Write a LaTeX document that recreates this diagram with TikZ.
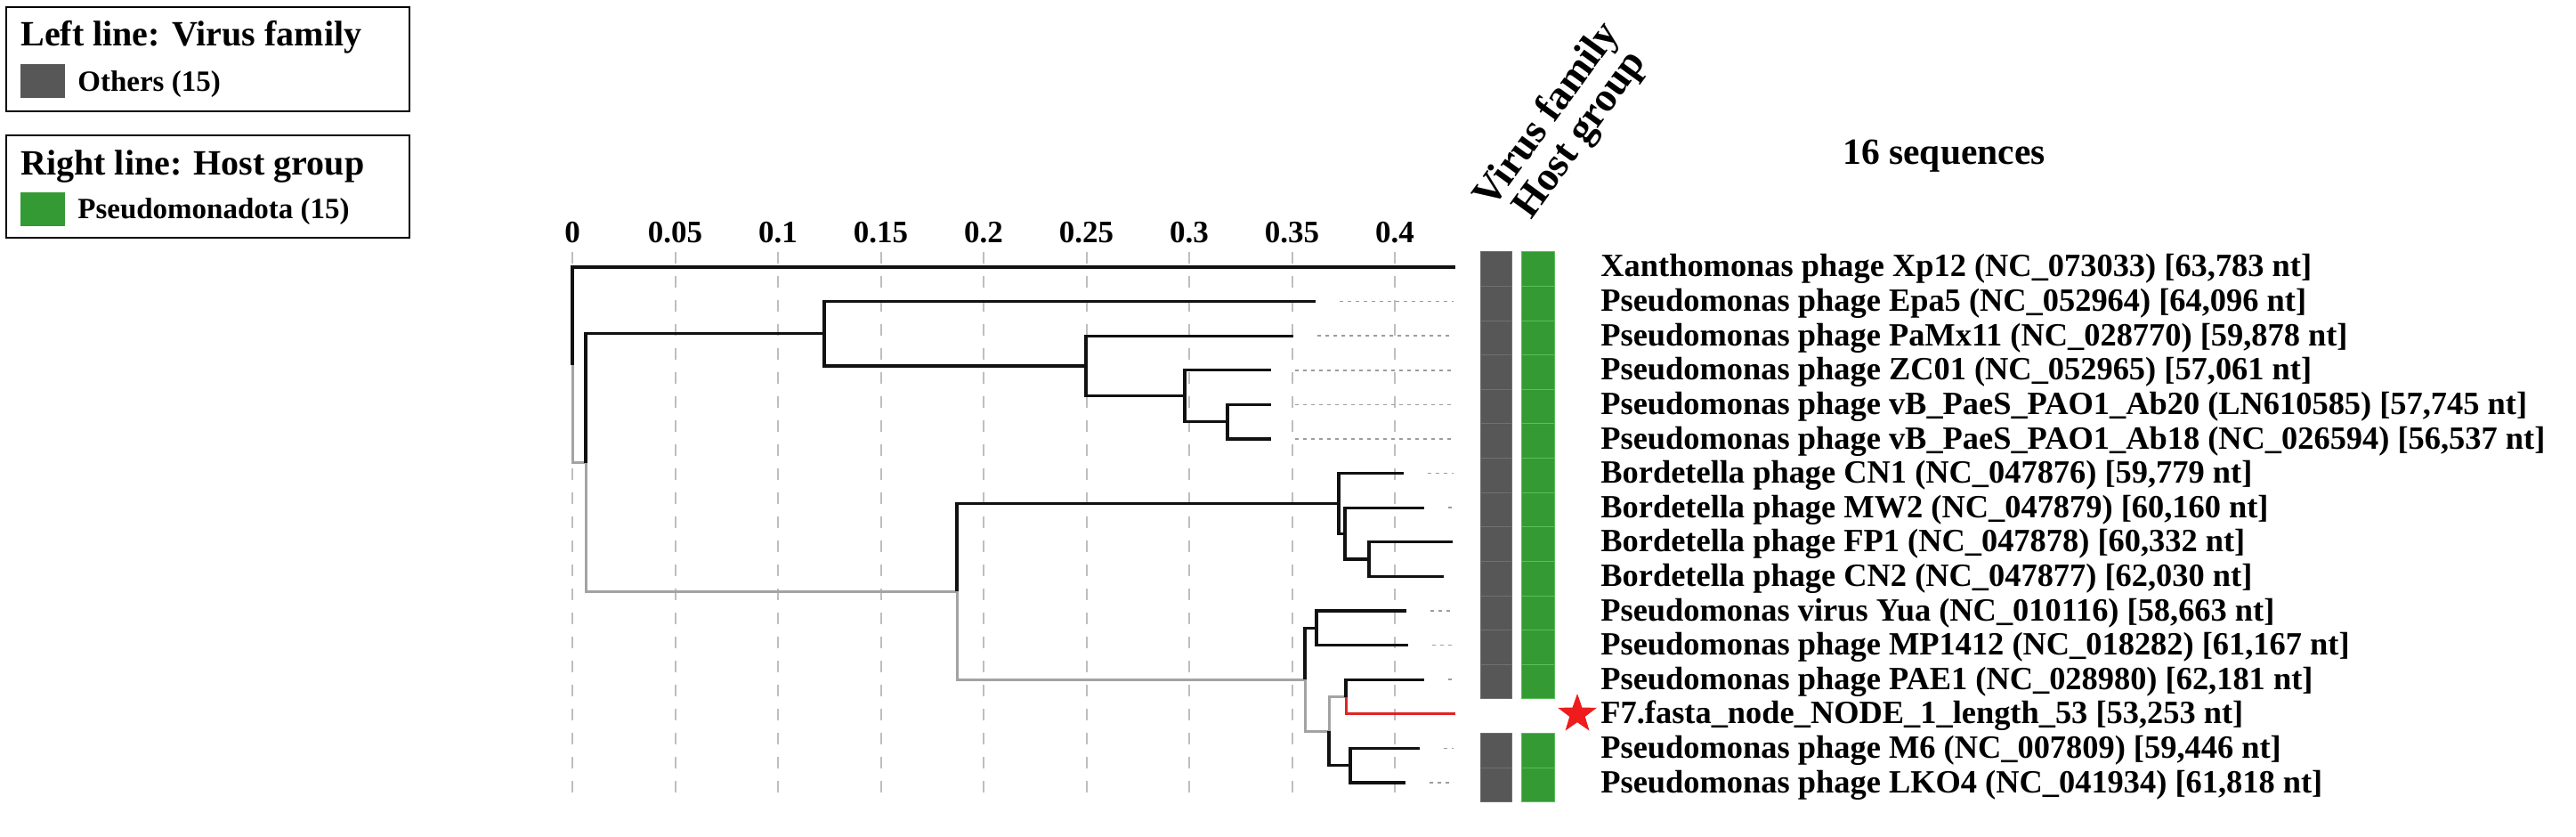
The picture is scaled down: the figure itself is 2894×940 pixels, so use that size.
\documentclass[tikz,border=0pt]{standalone}
\usepackage{fontspec}
\setmainfont{Liberation Serif}
\usetikzlibrary{shapes.geometric}
\definecolor{vfam}{HTML}{575757}
\definecolor{vfamln}{HTML}{707070}
\definecolor{hgrp}{HTML}{349A34}
\definecolor{hgrpln}{HTML}{5BBF5B}
\definecolor{brgray}{HTML}{A3A3A3}
\definecolor{brblack}{HTML}{111111}
\definecolor{brred}{HTML}{E02424}
\definecolor{gridc}{HTML}{BEBEBE}
\definecolor{leadc}{HTML}{9C9C9C}
\definecolor{starred}{HTML}{EE1C1C}
\newcommand\pxfont[1]{\fontsize{#1}{#1}\selectfont\bfseries}
\begin{document}
\begin{tikzpicture}[x=0.5pt,y=-0.5pt,
  blk/.style={line width=1.65pt,draw=brblack,line join=miter},
  gry/.style={line width=1.5pt,draw=brgray,line join=miter},
  qry/.style={line width=1.5pt,draw=brred,line join=miter},
  gridln/.style={line width=1pt,draw=gridc,dash pattern=on 6.5pt off 7pt},
  leader/.style={line width=0.8pt,draw=leadc,dash pattern=on 2.2pt off 2.3pt},
  lbl/.style={anchor=base west,inner sep=0pt,font=\pxfont{18.2}},
  tick/.style={anchor=base,inner sep=0pt,font=\pxfont{17.5}},
  legbox/.style={draw=black,line width=1pt},
  vcell/.style={fill=vfam,draw=vfamln,line width=0.5pt},
  hcell/.style={fill=hgrp,draw=hgrpln,line width=0.5pt}]
\useasboundingbox (0,0) rectangle (2894,940);

% ---------- legends ----------
\draw[legbox] (7,8) rectangle (460,125);
\node[anchor=base west,inner sep=0pt,font=\pxfont{20}] (lt1) at (23,52) {Left line: Virus family};
\fill[vfam] (23,72) rectangle (73,110);
\node[anchor=base west,inner sep=0pt,font=\pxfont{16.5}] (li1) at (87,103) {Others (15)};
\draw[legbox] (7,152) rectangle (460,267);
\node[anchor=base west,inner sep=0pt,font=\pxfont{20}] (lt2) at (23,197) {Right line: Host group};
\fill[hgrp] (23,216) rectangle (73,254);
\node[anchor=base west,inner sep=0pt,font=\pxfont{16.5}] (li2) at (87,246) {Pseudomonadota (15)};

% ---------- axis ----------
\foreach \v in {0,0.05,0.1,0.15,0.2,0.25,0.3,0.35,0.4}{
  \draw[gridln] ({643+2310*\v},283) -- ({643+2310*\v},900);
}
\node[tick] (x0) at (643,273) {0};
\node[tick] (x1) at (758.5,273) {0.05};
\node[tick] (x2) at (874,273) {0.1};
\node[tick] (x3) at (989.5,273) {0.15};
\node[tick] (x4) at (1105,273) {0.2};
\node[tick] (x5) at (1220.5,273) {0.25};
\node[tick] (x6) at (1336,273) {0.3};
\node[tick] (x7) at (1451.5,273) {0.35};
\node[tick] (x8) at (1567,273) {0.4};

% ---------- tree coordinates ----------
\coordinate (t0) at (1635,300);
\coordinate (t1) at (1478,338.6);
\coordinate (t2) at (1453,377.2);
\coordinate (t3) at (1428,415.8);
\coordinate (t4) at (1428,454.4);
\coordinate (t5) at (1428,493);
\coordinate (t6) at (1577,531.6);
\coordinate (t7) at (1600,570.2);
\coordinate (t8) at (1632,608.8);
\coordinate (t9) at (1622,647.4);
\coordinate (t10) at (1580,686);
\coordinate (t11) at (1582,724.6);
\coordinate (t12) at (1600,763.2);
\coordinate (t13) at (1635,801.8);
\coordinate (t14) at (1595,840.4);
\coordinate (t15) at (1579,879);

\coordinate (G) at (1379,473.7);
\coordinate (F) at (1331,444.75);
\coordinate (E) at (1220,411);
\coordinate (B) at (926,374.8);
\coordinate (K) at (1538,628.1);
\coordinate (J) at (1511,599.15);
\coordinate (H) at (1504,565.4);
\coordinate (L) at (1479,705.3);
\coordinate (N) at (1512,782.5);
\coordinate (O) at (1517,859.7);
\coordinate (M) at (1493,821.1);
\coordinate (I) at (1466,763.2);
\coordinate (C) at (1075,664.3);
\coordinate (A) at (658,519.5);
\coordinate (root) at (643,409.8);
\coordinate (lead) at (1633,300);

% ---------- leaders ----------
\foreach \t in {t1,t2,t3,t4,t5,t6,t7,t10,t11,t12,t14,t15}{
  \draw[leader] ([xshift=13.5pt]\t) -- (\t -| lead);
}

% ---------- branches ----------
\draw[gry] (root) |- (A);
\draw[blk] (root) |- (t0);
\draw[gry] (A) |- (C);
\draw[blk] (A) |- (B);
\draw[blk] (B) |- (t1);
\draw[blk] (B) |- (E);
\draw[blk] (E) |- (t2);
\draw[blk] (E) |- (F);
\draw[blk] (F) |- (t3);
\draw[blk] (F) |- (G);
\draw[blk] (G) |- (t4);
\draw[blk] (G) |- (t5);
\draw[gry] (C) |- (I);
\draw[blk] (C) |- (H);
\draw[blk] (H) |- (t6);
\draw[blk] (H) |- (J);
\draw[blk] (J) |- (t7);
\draw[blk] (J) |- (K);
\draw[blk] (K) |- (t8);
\draw[blk] (K) |- (t9);
\draw[gry] (I) |- (M);
\draw[blk] (I) |- (L);
\draw[blk] (L) |- (t10);
\draw[blk] (L) |- (t11);
\draw[gry] (M) |- (N);
\draw[blk] (M) |- (O);
\draw[blk] (N) |- (t12);
\draw[qry] (N) |- (t13);
\draw[blk] (O) |- (t14);
\draw[blk] (O) |- (t15);

% ---------- annotation bars ----------
\foreach \i in {0,...,12,14,15}{
  \path[vcell] (1663,{283+38.6*\i}) rectangle (1698,{321.6+38.6*\i});
  \path[hcell] (1709,{283+38.6*\i}) rectangle (1746,{321.6+38.6*\i});
}
\node[anchor=base west,inner sep=0pt,rotate=54,font=\pxfont{23}] (hvf) at (1676,236) {Virus family};
\node[anchor=base west,inner sep=0pt,rotate=54,font=\pxfont{23}] (hhg) at (1720,248) {Host group};
\node[anchor=base,inner sep=0pt,font=\pxfont{20.75}] (title) at (2184,185) {16 sequences};

% ---------- star ----------
\node[star,star points=5,star point ratio=2.5,fill=starred,minimum size=23pt,inner sep=0pt] (qstar) at (1772,802) {};

% ---------- leaf labels ----------
\node[lbl] (l0) at (1798,311) {Xanthomonas phage Xp12 (NC\_073033) [63,783 nt]};
\node[lbl] (l1) at (1798,349.6) {Pseudomonas phage Epa5 (NC\_052964) [64,096 nt]};
\node[lbl] (l2) at (1798,388.2) {Pseudomonas phage PaMx11 (NC\_028770) [59,878 nt]};
\node[lbl] (l3) at (1798,426.8) {Pseudomonas phage ZC01 (NC\_052965) [57,061 nt]};
\node[lbl] (l4) at (1798,465.4) {Pseudomonas phage vB\_PaeS\_PAO1\_Ab20 (LN610585) [57,745 nt]};
\node[lbl] (l5) at (1798,504) {Pseudomonas phage vB\_PaeS\_PAO1\_Ab18 (NC\_026594) [56,537 nt]};
\node[lbl] (l6) at (1798,542.6) {Bordetella phage CN1 (NC\_047876) [59,779 nt]};
\node[lbl] (l7) at (1798,581.2) {Bordetella phage MW2 (NC\_047879) [60,160 nt]};
\node[lbl] (l8) at (1798,619.8) {Bordetella phage FP1 (NC\_047878) [60,332 nt]};
\node[lbl] (l9) at (1798,658.4) {Bordetella phage CN2 (NC\_047877) [62,030 nt]};
\node[lbl] (l10) at (1798,697) {Pseudomonas virus Yua (NC\_010116) [58,663 nt]};
\node[lbl] (l11) at (1798,735.6) {Pseudomonas phage MP1412 (NC\_018282) [61,167 nt]};
\node[lbl] (l12) at (1798,774.2) {Pseudomonas phage PAE1 (NC\_028980) [62,181 nt]};
\node[lbl] (l13) at (1798,812.8) {F7.fasta\_node\_NODE\_1\_length\_53 [53,253 nt]};
\node[lbl] (l14) at (1798,851.4) {Pseudomonas phage M6 (NC\_007809) [59,446 nt]};
\node[lbl] (l15) at (1798,890) {Pseudomonas phage LKO4 (NC\_041934) [61,818 nt]};
\end{tikzpicture}
\end{document}
